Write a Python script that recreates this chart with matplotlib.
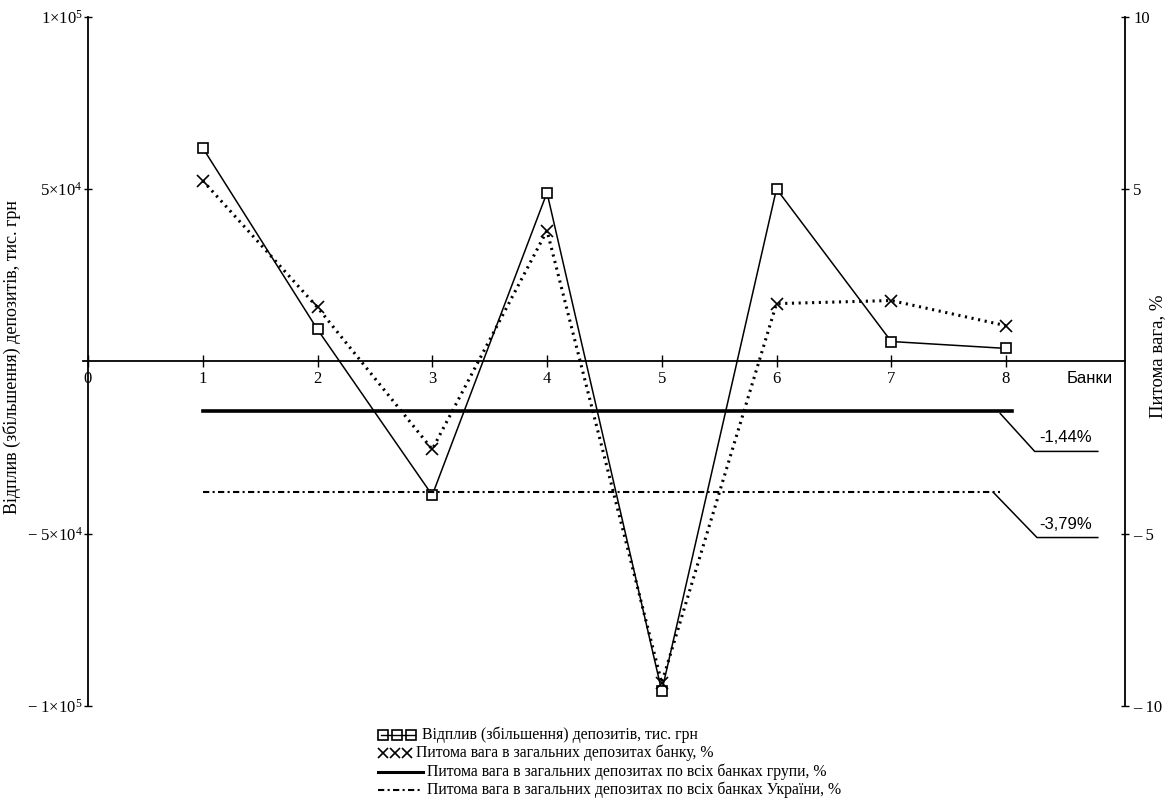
import matplotlib
matplotlib.use("Agg")
import matplotlib.pyplot as plt
from matplotlib.lines import Line2D

# ---- data ----
banks = [1, 2, 3, 4, 5, 6, 7, 8]
outflow = [62000, 9300, -38800, 49000, -95700, 50100, 5800, 3800]        # тис. грн
share_bank = [5.25, 1.57, -2.55, 3.80, -9.33, 1.68, 1.77, 1.04]          # %
group_share = -1.44
ukraine_share = -3.79
x_ticks = [0, 1, 2, 3, 4, 5, 6, 7, 8]
left_ticks = [-1e5, -5e4, 5e4, 1e5]
left_ticklabels = [r'$\mathrm{-\ 1{\times}10^{5}}$', r'$\mathrm{-\ 5{\times}10^{4}}$',
                   r'$\mathrm{5{\times}10^{4}}$', r'$\mathrm{1{\times}10^{5}}$']
right_ticks = [-10, -5, 5, 10]
right_ticklabels = ['\u2013 10', '\u2013 5', '5', '10']
legend_labels = ['Відплив (збільшення) депозитів, тис. грн',
                 'Питома вага в загальних депозитах банку, %',
                 'Питома вага в загальних депозитах по всіх банках групи, %',
                 'Питома вага в загальних депозитах по всіх банках України, %']

plt.rcParams['mathtext.fontset'] = 'custom'
plt.rcParams['mathtext.rm'] = 'Liberation Serif'
plt.rcParams['mathtext.it'] = 'Liberation Serif'
plt.rcParams['font.family'] = ['Liberation Serif', 'DejaVu Serif']

W, H = 1169, 807
fig = plt.figure(figsize=(W / 100, H / 100), dpi=100)
ax = fig.add_axes([88 / W, 1 - 706 / H, (1125 - 88) / W, (706 - 17) / H])
ax.set_xlim(0, 9.037)
ax.set_ylim(-1e5, 1e5)
ax2 = ax.twinx()
ax2.set_ylim(-10, 10)

for s in ['top', 'right']:
    ax.spines[s].set_visible(False)
ax.spines['bottom'].set_position(('data', 0))
ax.spines['bottom'].set_bounds(-0.04, 9.037)
ax.spines['left'].set_linewidth(1.3)
ax.spines['bottom'].set_linewidth(1.3)
for s in ['top', 'left', 'bottom']:
    ax2.spines[s].set_visible(False)
ax2.spines['right'].set_linewidth(1.3)

ax.set_xticks(x_ticks)
ax.set_xticklabels([str(v) for v in x_ticks], fontsize=12)
ax.tick_params(axis='x', direction='inout', length=9, width=1, pad=2)
ax.set_yticks(left_ticks)
ax.set_yticklabels(left_ticklabels, fontsize=12)
ax.tick_params(axis='y', direction='inout', length=6, width=1, pad=1)
ax2.set_yticks(right_ticks)
ax2.set_yticklabels(right_ticklabels, fontsize=12)
ax2.tick_params(axis='y', direction='inout', length=6, width=1, pad=3)

# deposits series
ax.plot(banks, outflow, color='black', lw=1.1, marker='s', ms=7,
        mfc='white', mec='black', mew=1.2, zorder=3)
# share series
ax2.plot(banks, share_bank, color='black', lw=2.2, dashes=(0.7, 1.5),
         zorder=2)
ax2.plot(banks, share_bank, ls='none', marker='x', ms=8, mec='black',
         mew=1.2, zorder=3)
# group / Ukraine lines
ax2.plot([banks[0], 8.05], [group_share, group_share], color='black', lw=2.6)
ax2.plot([banks[0], 7.95], [ukraine_share, ukraine_share], color='black',
         lw=1.5, dashes=(3, 1.6, 1, 1.6))

# annotation leaders
ax2.plot([7.95, 8.25, 8.80], [-1.51, -2.61, -2.61], color='black', lw=1.1,
         clip_on=False)
ax2.plot([7.89, 8.27, 8.80], [-3.80, -5.11, -5.11], color='black', lw=1.1,
         clip_on=False)
ax2.text(8.52, -2.22, '-1,44%', ha='center', va='center', fontsize=12,
         family='Liberation Sans')
ax2.text(8.52, -4.72, '-3,79%', ha='center', va='center', fontsize=12,
         family='Liberation Sans')
ax.text(8.73, -5000, 'Банки', ha='center', va='center', fontsize=12,
        family='Liberation Sans')

# axis titles
fig.text(12 / W, 1 - 357 / H, 'Відплив (збільшення) депозитів, тис. грн',
         rotation=90, ha='center', va='center', fontsize=13)
fig.text(1158 / W, 1 - 356 / H, 'Питома вага, %',
         rotation=90, ha='center', va='center', fontsize=13.5)

# legend (manual)
ys = [735, 753, 772, 790]
x0 = 378


def fx(p):
    return p / W


def fy(p):
    return 1 - p / H


fig.add_artist(Line2D([fx(381), fx(415)], [fy(ys[0])] * 2, color='black', lw=1))
fig.add_artist(Line2D([fx(383), fx(397), fx(411)], [fy(ys[0])] * 3, ls='none',
                      marker='s', ms=6.5, mfc='none', mec='black', mew=1.2))
fig.add_artist(Line2D([fx(383), fx(395), fx(407)], [fy(ys[1])] * 3, ls='none',
                      marker='x', ms=6.5, mec='black', mew=1.2))
fig.add_artist(Line2D([fx(x0), fx(423)], [fy(ys[2])] * 2, color='black', lw=2.2))
fig.add_artist(Line2D([fx(x0), fx(423)], [fy(ys[3])] * 2, color='black', lw=1.5,
                      dashes=(3, 1.6, 1, 1.6)))
text_x = [422, 416, 427, 427]
for lab, y, tx in zip(legend_labels, ys, text_x):
    fig.text(fx(tx), fy(y), lab, ha='left', va='center', fontsize=11.3)

fig.savefig('out.png', dpi=100)
